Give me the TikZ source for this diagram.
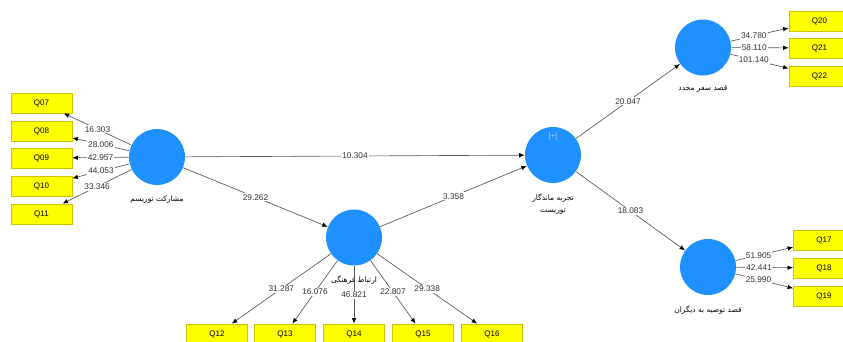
\documentclass[tikz,border=0pt]{standalone}
\usepackage{fontspec}
\setmainfont{Liberation Sans}
\newfontfamily\farsi[Script=Arabic]{DejaVu Sans}
\TeXXeTstate=1
\usetikzlibrary{arrows.meta}
\definecolor{plsblue}{RGB}{30,144,255}
\definecolor{itemyellow}{RGB}{255,255,0}
\definecolor{itemedge}{RGB}{205,195,0}
\definecolor{pathgray}{RGB}{85,85,85}

\begin{document}
\begin{tikzpicture}[x=1pt,y=-1pt,every path/.append style={line width=0.65pt},
	latent/.style={circle,fill=plsblue,inner sep=0pt,minimum size=56pt},
	item/.style={rectangle,fill=itemyellow,draw=itemedge,line width=0.8pt,minimum width=61pt,
		minimum height=20pt,inner sep=0pt,font=\fontsize{8}{9}\selectfont},
	lvname/.style={font=\fontsize{7.5}{12}\selectfont\farsi,align=center,inner sep=1pt,label distance=9pt},
	coef/.style={midway,fill=white,inner sep=1pt,font=\fontsize{8.3}{9}\selectfont,text=black!80},
	link/.style={draw=pathgray,-{Latex[length=5.5pt,width=4.5pt,color=black]}}]
\useasboundingbox (0,0) rectangle (843,342);

% latent variables
\node(MT) [latent,label={[lvname]below:\beginR مشارکت توریسم\endR}] at (157,157) {};
\node(ER) [latent,label={[lvname]below:\beginR ارتباط فرهنگی\endR}] at (354,237.5) {};
\node(TE) [latent,label={[lvname]below:\beginR تجربه ماندگار\endR\\\beginR توریست\endR}] at (553,155) {};
\node(SM) [latent,label={[lvname]below:\beginR قصد سفر مجدد\endR}] at (703,47.5) {};
\node(TD) [latent,label={[lvname]below:\beginR قصد توصیه به دیگران\endR}] at (708,267) {};
\node(TEplus) [font=\fontsize{7.5}{8}\selectfont,text=white!65!plsblue] at (553,137) {[+]};

% indicators
\node(Q07) [item] at (41.5,103) {Q07};
\node(Q08) [item] at (41.5,131) {Q08};
\node(Q09) [item] at (41.5,158) {Q09};
\node(Q10) [item] at (41.5,186) {Q10};
\node(Q11) [item] at (41.5,214) {Q11};
\node(Q12) [item] at (217,334) {Q12};
\node(Q13) [item] at (285,334) {Q13};
\node(Q14) [item] at (354,334) {Q14};
\node(Q15) [item] at (423,334) {Q15};
\node(Q16) [item] at (492,334) {Q16};
\node(Q17) [item] at (824,240) {Q17};
\node(Q18) [item] at (824,268) {Q18};
\node(Q19) [item] at (824,296) {Q19};
\node(Q20) [item] at (819.5,21) {Q20};
\node(Q21) [item] at (819.5,48) {Q21};
\node(Q22) [item] at (819.5,76) {Q22};

% inner model
\draw[link] (MT) -- (TE) node [coef] {10.304};
\draw[link] (MT) -- (ER) node [coef] {29.262};
\draw[link] (ER) -- (TE) node [coef] {3.358};
\draw[link] (TE) -- (SM) node [coef] {20.047};
\draw[link] (TE) -- (TD) node [coef] {18.083};

% outer model
\draw[link] (MT) -- (Q07) node [coef] {16.303};
\draw[link] (MT) -- (Q08) node [coef] {28.006};
\draw[link] (MT) -- (Q09) node [coef] {42.957};
\draw[link] (MT) -- (Q10) node [coef] {44.053};
\draw[link] (MT) -- (Q11) node [coef] {33.346};
\draw[link] (ER) -- (Q12) node [coef] {31.287};
\draw[link] (ER) -- (Q13) node [coef] {16.076};
\draw[link] (ER) -- (Q14) node [coef] {46.821};
\draw[link] (ER) -- (Q15) node [coef] {22.807};
\draw[link] (ER) -- (Q16) node [coef] {29.338};
\draw[link] (TD) -- (Q17) node [coef,pos=0.4] {51.905};
\draw[link] (TD) -- (Q18) node [coef,pos=0.4] {42.441};
\draw[link] (TD) -- (Q19) node [coef,pos=0.4] {25.990};
\draw[link] (SM) -- (Q20) node [coef,pos=0.4] {34.780};
\draw[link] (SM) -- (Q21) node [coef,pos=0.4] {58.110};
\draw[link] (SM) -- (Q22) node [coef,pos=0.4] {101.140};
\end{tikzpicture}
\end{document}
